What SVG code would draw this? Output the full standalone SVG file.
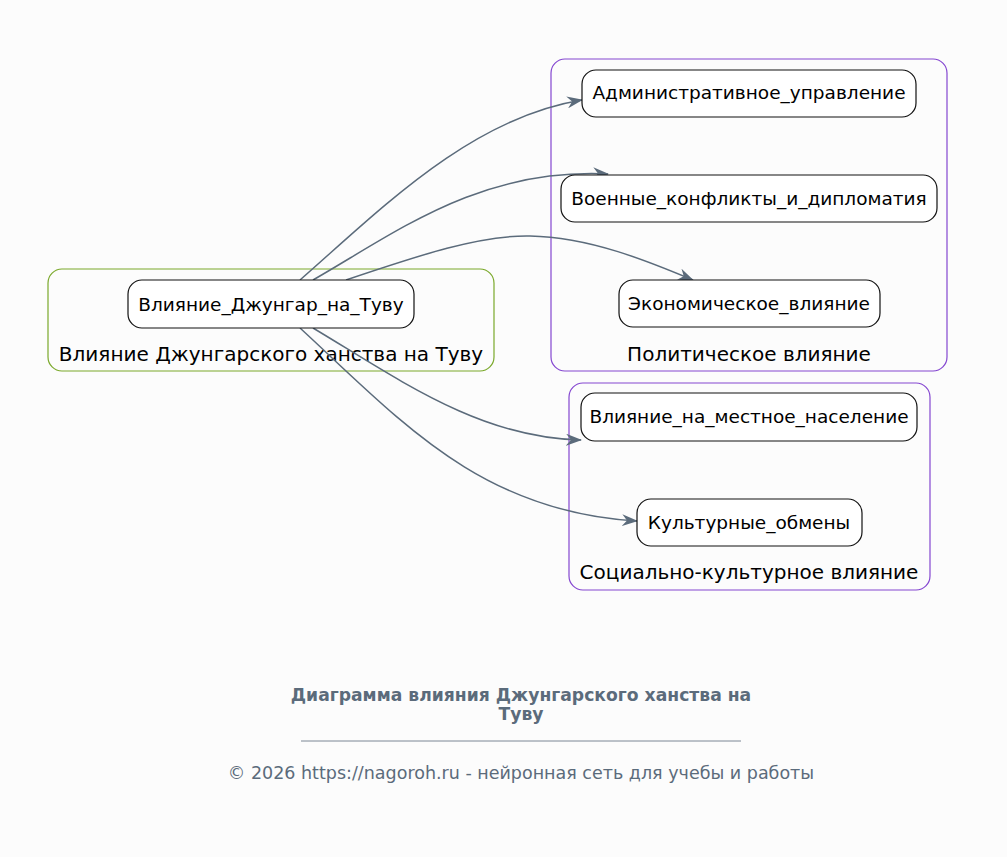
<svg xmlns="http://www.w3.org/2000/svg" width="1007" height="857" viewBox="0 0 1007 857">
<style>
.bg{fill:#fcfcfc}
.node rect{fill:#ffffff;stroke:#111;stroke-width:1.2}
.node text{font-family:"DejaVu Sans",sans-serif;font-size:18.5px;fill:#000;text-anchor:middle;dominant-baseline:central}
.cl text{font-family:"DejaVu Sans",sans-serif;font-size:20px;fill:#000;text-anchor:middle;dominant-baseline:central}
.green{fill:none;stroke:#7aa82a;stroke-width:1.2}
.purple{fill:none;stroke:#8446d0;stroke-width:1.2}
.edge{fill:none;stroke:#5b6b7b;stroke-width:1.5}
.title{font-family:"DejaVu Sans",sans-serif;font-size:17.2px;font-weight:bold;fill:#5b6b7b;text-anchor:middle}
.foot{font-family:"DejaVu Sans",sans-serif;font-size:17.5px;fill:#5b6b7b;text-anchor:middle}
</style>
<defs>
<marker id="arr" viewBox="0 0 16 12" refX="15" refY="6" markerWidth="16" markerHeight="12" markerUnits="userSpaceOnUse" orient="auto">
<path d="M0,0 L16,6 L0,12 L5,6 Z" fill="#5b6b7b"/>
</marker>
</defs>
<rect class="bg" x="0" y="0" width="1007" height="857"/>
<g id="cluster-root" class="cl">
<rect class="green" x="48" y="269" width="446" height="102" rx="14"/>
<text x="271" y="354">Влияние Джунгарского ханства на Туву</text>
</g>
<g id="cluster-political" class="cl">
<rect class="purple" x="551" y="59" width="396" height="312" rx="14"/>
<text x="749" y="354">Политическое влияние</text>
</g>
<g id="cluster-social" class="cl">
<rect class="purple" x="569" y="383" width="361" height="207" rx="14"/>
<text x="749" y="572">Социально-культурное влияние</text>
</g>
<g id="connectors">
<path class="edge" marker-end="url(#arr)" d="M300,280 C380,210 470,118 582,100"/>
<path class="edge" marker-end="url(#arr)" d="M313,280 C400,230 480,168 608,174"/>
<path class="edge" marker-end="url(#arr)" d="M346,280 C420,255 480,235 530,236 C590,237 650,262 693,280"/>
<path class="edge" marker-end="url(#arr)" d="M313,328 C400,380 480,438 581,440"/>
<path class="edge" marker-end="url(#arr)" d="M300,328 C400,420 480,512 637,521"/>
</g>
<g id="node-root" class="node">
<rect x="128" y="280" width="286" height="48" rx="14"/>
<text x="271" y="304">Влияние_Джунгар_на_Туву</text>
</g>
<g id="node-admin" class="node">
<rect x="582" y="70" width="334" height="47" rx="14"/>
<text x="749" y="92">Административное_управление</text>
</g>
<g id="node-military" class="node">
<rect x="561" y="175" width="376" height="47" rx="14"/>
<text x="749" y="198">Военные_конфликты_и_дипломатия</text>
</g>
<g id="node-econ" class="node">
<rect x="619" y="280" width="261" height="47" rx="14"/>
<text x="749" y="303">Экономическое_влияние</text>
</g>
<g id="node-local" class="node">
<rect x="581" y="393" width="336" height="48" rx="14"/>
<text x="749" y="416">Влияние_на_местное_население</text>
</g>
<g id="node-culture" class="node">
<rect x="637" y="499" width="225" height="47" rx="14"/>
<text x="749" y="522">Культурные_обмены</text>
</g>
<g id="footer">
<text class="title" x="521" y="701">Диаграмма влияния Джунгарского ханства на</text>
<text class="title" x="521" y="720">Туву</text>
<line x1="301" y1="741" x2="741" y2="741" stroke="#5b6b7b" stroke-width="0.8"/>
<text class="foot" x="521" y="779">© 2026 https://nagoroh.ru - нейронная сеть для учебы и работы</text>
</g>
</svg>
